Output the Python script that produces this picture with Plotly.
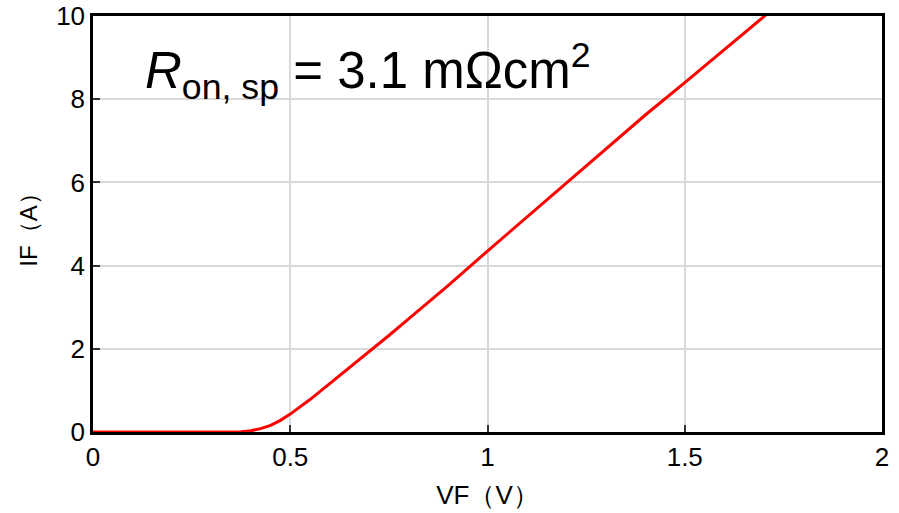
import plotly.graph_objects as go

vf = [0.0, 0.1, 0.2, 0.3, 0.35, 0.375, 0.4, 0.425, 0.45, 0.475, 0.5, 0.525, 0.55, 0.575, 0.6,
      0.65, 0.7, 0.75, 0.8, 0.9, 1.0, 1.1, 1.2, 1.3, 1.4, 1.5, 1.6, 1.7, 1.72]
if_a = [0.0, 0.0, 0.0, 0.0, 0.0, 0.005, 0.03, 0.08, 0.16, 0.28, 0.43, 0.6, 0.78, 0.97, 1.16,
        1.54, 1.93, 2.32, 2.72, 3.52, 4.35, 5.17, 6.0, 6.82, 7.62, 8.4, 9.2, 9.98, 10.14]

x_ticks = [0, 0.5, 1, 1.5, 2]
x_tick_labels = ["0", "0.5", "1", "1.5", "2"]
y_ticks = [0, 2, 4, 6, 8, 10]
y_tick_labels = ["0", "2", "4", "6", "8", "10"]

FONT = "Liberation Sans, Arial, sans-serif"

fig = go.Figure()
fig.add_trace(go.Scatter(x=vf, y=if_a, mode="lines",
                         line=dict(color="#ff0000", width=3), showlegend=False))

axis_common = dict(showline=True, linecolor="black", linewidth=2.5, mirror=True,
                   showgrid=True, gridcolor="#d9d9d9", gridwidth=2,
                   ticks="inside", ticklen=7, tickwidth=2, tickcolor="#333333",
                   zeroline=False, automargin=False, ticklabeloverflow="allow",
                   tickfont=dict(family=FONT, size=26, color="black"))

fig.update_xaxes(range=[0, 2], tickvals=x_ticks, ticktext=x_tick_labels,
                 title=dict(text="VF（V）", font=dict(family=FONT, size=26, color="black"), standoff=15),
                 **axis_common)
fig.update_yaxes(range=[0, 10], tickvals=y_ticks, ticktext=y_tick_labels,
                 title=dict(text="IF（A）", font=dict(family=FONT, size=24, color="black"), standoff=12),
                 **axis_common)

fig.add_shape(type="rect", xref="paper", yref="paper", x0=0.035, x1=0.697, y0=0.767, y1=0.978,
              fillcolor="white", line=dict(width=0), layer="between")

fig.add_annotation(xref="paper", yref="paper", x=0.064, y=0.867, xanchor="left", yanchor="middle",
                   showarrow=False,
                   text="<i>R</i><sub>on, sp</sub> = 3.1 mΩcm<sup>2</sup>",
                   font=dict(family=FONT, size=51, color="black"))

fig.update_layout(width=899, height=513, margin=dict(l=93, r=17, t=16, b=81),
                  plot_bgcolor="white", paper_bgcolor="white")

fig.write_html("out.html", config={"displayModeBar": False},
               post_script="document.body.style.margin='0';")
